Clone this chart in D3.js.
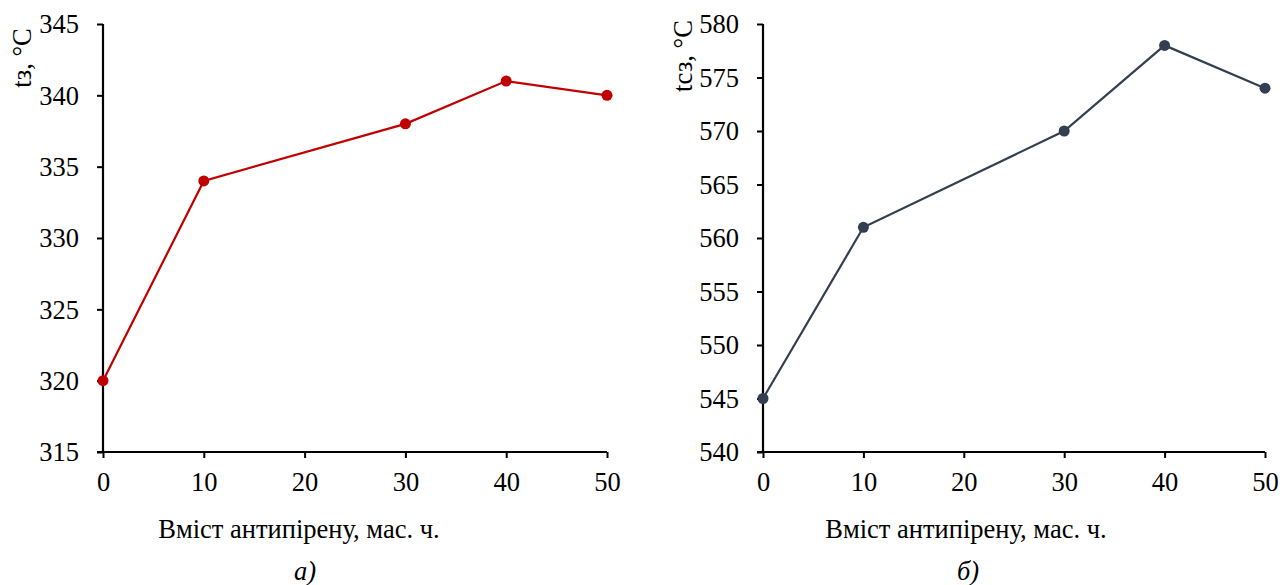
<!DOCTYPE html>
<html>
<head>
<meta charset="utf-8">
<script src="https://cdn.jsdelivr.net/npm/d3@7"></script>
<style>
  body { margin: 0; background: #fff; }
  svg text { font-family: "Liberation Serif", "Times New Roman", "DejaVu Serif", serif; fill: #000; }
</style>
</head>
<body>
<svg id="chart" width="1283" height="585"></svg>
<script>
// Shared x values (flame retardant content, mass parts)
const content = [0, 10, 30, 40, 50];
const xTicks = [0, 10, 20, 30, 40, 50];

// Panel a) ignition temperature
const ignitionTemp = [320, 334, 338, 341, 340];
const yTicksA = [315, 320, 325, 330, 335, 340, 345];

// Panel b) self-ignition temperature
const selfIgnitionTemp = [545, 561, 570, 578, 574];
const yTicksB = [540, 545, 550, 555, 560, 565, 570, 575, 580];

const xLabel = 'Вміст антипірену, мас. ч.';

const panels = [
  { left: 103, right: 607, values: ignitionTemp, ticks: yTicksA, color: '#C00000',
    yTitle: 'tз, °C', titleX: 22, titleY: 58, labelX: 299, caption: 'а)', captionX: 305 },
  { left: 763, right: 1265, values: selfIgnitionTemp, ticks: yTicksB, color: '#333F50',
    yTitle: 'tсз, °C', titleX: 683, titleY: 56, labelX: 966, caption: 'б)', captionX: 968 }
];

const plotTop = 24, plotBottom = 452;
const fontSize = '26.5px';
const svg = d3.select('#chart');

panels.forEach(p => {
  const x = d3.scaleLinear().domain([0, 50]).range([p.left, p.right]);
  const y = d3.scaleLinear().domain(d3.extent(p.ticks)).range([plotBottom, plotTop]);
  const g = svg.append('g');

  // Y axis
  const yAxis = g.append('g')
    .attr('transform', `translate(${p.left},0)`)
    .call(d3.axisLeft(y).tickValues(p.ticks).tickSize(6).tickPadding(18));
  // X axis
  const xAxis = g.append('g')
    .attr('transform', `translate(0,${plotBottom})`)
    .call(d3.axisBottom(x).tickValues(xTicks).tickSize(6).tickPadding(14));

  [yAxis, xAxis].forEach(a => {
    a.attr('font-family', null).attr('font-size', null);
    a.select('.domain').attr('stroke', '#000').attr('stroke-width', 2.2)
      .attr('d', a === yAxis ? `M0,${plotBottom}V${plotTop}` : `M${p.left - 6},0H${p.right}`);
    a.selectAll('.tick line').attr('stroke', '#000').attr('stroke-width', 2);
    a.selectAll('.tick text').style('font-size', fontSize).attr('fill', '#000');
  });
  yAxis.selectAll('.tick text').attr('dy', '0.33em');

  // Line and markers
  const pts = content.map((c, i) => [c, p.values[i]]);
  g.append('path')
    .datum(pts)
    .attr('fill', 'none')
    .attr('stroke', p.color)
    .attr('stroke-width', 2.2)
    .attr('d', d3.line().x(d => x(d[0])).y(d => y(d[1])));

  g.selectAll('circle.pt')
    .data(pts)
    .enter()
    .append('circle')
    .attr('class', 'pt')
    .attr('cx', d => x(d[0]))
    .attr('cy', d => y(d[1]))
    .attr('r', 5.5)
    .attr('fill', p.color);

  // Titles
  g.append('text')
    .attr('transform', `translate(${p.titleX},${p.titleY}) rotate(-90)`)
    .attr('text-anchor', 'middle')
    .attr('dy', '0.35em')
    .style('font-size', fontSize)
    .text(p.yTitle);

  g.append('text')
    .attr('x', p.labelX)
    .attr('y', 538)
    .attr('text-anchor', 'middle')
    .style('font-size', fontSize)
    .text(xLabel);

  g.append('text')
    .attr('x', p.captionX)
    .attr('y', 580)
    .attr('text-anchor', 'middle')
    .style('font-size', fontSize)
    .style('font-style', 'italic')
    .text(p.caption);
});
</script>
</body>
</html>
